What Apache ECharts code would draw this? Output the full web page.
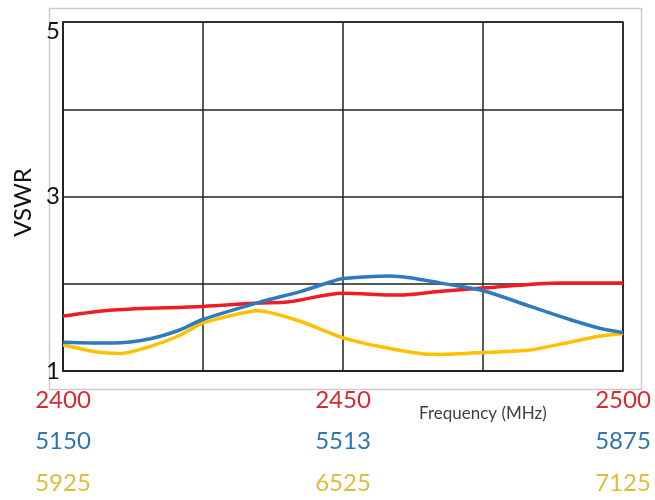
<!DOCTYPE html>
<html>
<head>
<meta charset="utf-8">
<script src="https://cdn.jsdelivr.net/npm/echarts@6/dist/echarts.min.js"></script>
<style>html,body{margin:0;padding:0;background:#fff}#c{width:655px;height:500px}</style>
</head>
<body>
<div id="c"></div>
<script>
// Tick labels
const redTicks = ['2400', '2450', '2500'];
const blueTicks = ['5150', '5513', '5875'];
const yellowTicks = ['5925', '6525', '7125'];
const yLabels = ['1', '', '3', '', '5'];

// Series: [frequency MHz, VSWR]
const red24 = [[2400,1.63],[2409,1.70],[2425,1.74],[2435,1.78],[2440,1.79],[2450,1.89],[2460,1.87],[2467,1.91],[2475,1.95],[2489,2.01],[2500,2.01]];
const blue5 = [[5150,1.33],[5215,1.32],[5263,1.37],[5301,1.47],[5331,1.59],[5405,1.79],[5457,1.91],[5496,2.02],[5513,2.06],[5573,2.09],[5599,2.07],[5638,2.01],[5694,1.92],[5755,1.74],[5806,1.59],[5845,1.49],[5875,1.44]];
const yellow6 = [[5925,1.30],[5994,1.22],[6047,1.20],[6111,1.28],[6176,1.41],[6225,1.55],[6343,1.69],[6433,1.57],[6525,1.38],[6604,1.28],[6690,1.20],[6733,1.19],[6825,1.21],[6926,1.24],[7011,1.33],[7076,1.40],[7125,1.43]];

const FONT = 'Lato';
const chart = echarts.init(document.getElementById('c'), null, {renderer: 'canvas'});
chart.setOption({
  animation: false,
  backgroundColor: '#fff',
  graphic: [{
    type: 'rect', left: 47, top: 6, z: -1,
    shape: {width: 592, height: 381},
    style: {fill: 'none', stroke: '#cccccc', lineWidth: 1.5}
  }],
  title: {
    text: 'Frequency (MHz)', left: 414, top: 400,
    textStyle: {fontFamily: FONT, fontSize: 17, fontWeight: 'normal', color: '#404040'}
  },
  grid: {left: 63, top: 22, right: 32, bottom: 129, show: true, borderColor: '#222', borderWidth: 1.5, backgroundColor: 'transparent'},
  xAxis: [{
    type: 'value', min: 2400, max: 2500, interval: 25, position: 'bottom',
    axisLine: {show: true, lineStyle: {color: '#222', width: 1.5}},
    axisTick: {show: false},
    splitLine: {show: true, lineStyle: {color: '#222', width: 1.5}},
    axisLabel: {
      margin: 17, fontFamily: FONT, fontSize: 24, color: '#d42a30',
      formatter: v => redTicks.includes(String(v)) ? String(v) : ''
    }
  }, {
    type: 'value', min: 5150, max: 5875, interval: 362.5, position: 'bottom', offset: 41,
    axisLine: {show: false}, axisTick: {show: false}, splitLine: {show: false},
    axisLabel: {
      margin: 17, fontFamily: FONT, fontSize: 24, color: '#2e75b6',
      formatter: (v, i) => blueTicks[i] !== undefined ? blueTicks[i] : ''
    }
  }, {
    type: 'value', min: 5925, max: 7125, interval: 600, position: 'bottom', offset: 83,
    axisLine: {show: false}, axisTick: {show: false}, splitLine: {show: false},
    axisLabel: {
      margin: 17, fontFamily: FONT, fontSize: 24, color: '#d9bd3c',
      formatter: (v, i) => yellowTicks[i] !== undefined ? yellowTicks[i] : ''
    }
  }],
  yAxis: {
    type: 'value', min: 1, max: 5, interval: 1,
    name: 'VSWR', nameLocation: 'middle', nameGap: 28,
    nameTextStyle: {fontFamily: FONT, fontSize: 24, color: '#111', padding: [0, 12, 0, 0]},
    axisLine: {show: true, lineStyle: {color: '#222', width: 1.5}},
    axisTick: {show: false},
    splitLine: {show: true, lineStyle: {color: '#222', width: 1.5}},
    axisLabel: {
      margin: 3, fontFamily: FONT, fontSize: 24, color: '#111',
      formatter: v => {
        const s = yLabels[Math.round(v) - 1] || '';
        return (v === 5 && s) ? '{t|' + s + '}' : s;
      },
      rich: {t: {fontFamily: FONT, fontSize: 24, color: '#111', padding: [18, 0, 0, 0]}}
    }
  },
  series: [{
    type: 'line', xAxisIndex: 0, data: red24, showSymbol: false, smooth: 0.3,
    lineStyle: {color: '#ee1c24', width: 3.5}, z: 3
  }, {
    type: 'line', xAxisIndex: 1, data: blue5, showSymbol: false, smooth: 0.3,
    lineStyle: {color: '#2f7abf', width: 3.5}, z: 4
  }, {
    type: 'line', xAxisIndex: 2, data: yellow6, showSymbol: false, smooth: 0.2,
    lineStyle: {color: '#ffc000', width: 3.5}, z: 2
  }]
});
</script>
</body>
</html>
